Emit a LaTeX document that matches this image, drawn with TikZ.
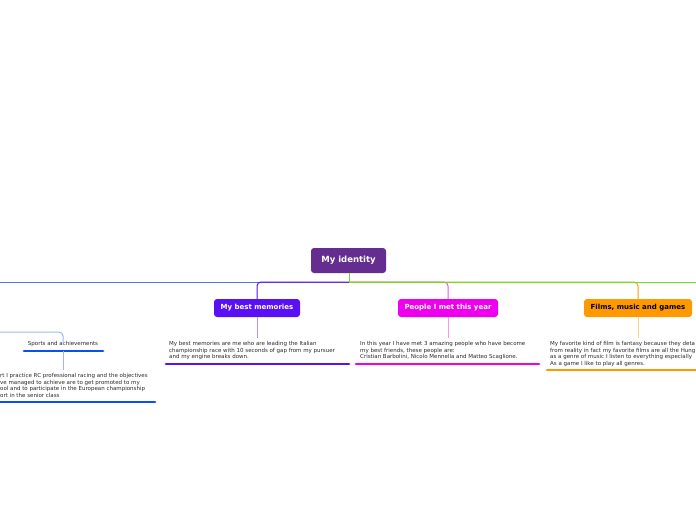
\documentclass[tikz,border=0pt]{standalone}
\usepackage{fontspec}
\setmainfont{DejaVu Sans}
\definecolor{cpurple}{HTML}{662D91}
\definecolor{cviolet}{HTML}{5A10F5}
\definecolor{cmag}{HTML}{EE00EE}
\definecolor{corange}{HTML}{FF9900}
\definecolor{cgreen}{HTML}{6EDC22}
\definecolor{cblue}{HTML}{5274E8}
\definecolor{cdblue}{HTML}{0A50F0}
\definecolor{clblue}{HTML}{9DB6F2}
\definecolor{ctext}{HTML}{2A2A2A}
\tikzset{
  topic/.style={rounded corners=3pt, inner sep=0pt, text centered, font=\bfseries\fontsize{7}{8}\selectfont},
  body/.style={inner sep=0pt, anchor=north west, align=left, text=ctext, font=\fontsize{5.5}{6.5}\selectfont},
  branch/.style={line width=1pt, rounded corners=4pt},
  stem/.style={line width=1pt},
  uline/.style={line width=2.8pt, line cap=round},
}
\begin{document}
\begin{tikzpicture}[x=1pt,y=-1pt]
\useasboundingbox (0,0) rectangle (696,520);
\clip (0,0) rectangle (696,520);
\fill[white] (0,0) rectangle (696,520);
% central node
\node[topic, fill=cpurple, text=white, minimum width=75pt, minimum height=25pt, font=\bfseries\fontsize{8.5}{10}\selectfont] (root) at (348.5,260.5) {My identity};
% child nodes
\node[topic, fill=cviolet, text=white, minimum width=86pt, minimum height=18pt] (mem) at (257,308) {My best memories};
\node[topic, fill=cmag, text=white, minimum width=100pt, minimum height=18pt] (ppl) at (448,308) {People I met this year};
\node[topic, fill=corange, text=black, minimum width=108pt, minimum height=18pt] (film) at (638,308) {Films, music and games};
\coordinate (hub) at (349,282);
\coordinate (leftend) at (0,282);
\coordinate (rightend) at (696,282);
% branches
\draw[branch, cblue] (hub) -- (leftend);
\draw[branch, cviolet] (hub) -| (mem.north);
\draw[branch, cmag!70] (hub) -| (ppl.north);
\draw[branch, corange] (hub) -| (film.north);
\draw[stem, cgreen] (root.south -| hub) -- (hub) -- (rightend);
% sports branch
\node[inner sep=0pt, text=ctext, font=\fontsize{5.5}{6.5}\selectfont] (sports) at (63,344) {Sports and achievements};
\coordinate (sportsin) at (0,332);
\draw[branch, clblue] (sportsin) -| ([yshift=-3pt]sports.north);
\coordinate (su1) at (24,351);
\coordinate (su2) at (103,351);
\draw[uline, cdblue] (su1) -- (su2);
% text blocks
\node[body] (memtxt) at (169,341.2) {My best memories are me who are leading the Italian\\championship race with 10 seconds of gap from my pursuer\\and my engine breaks down.};
\node[body] (ppltxt) at (360,341.2) {In this year I have met 3 amazing people who have become\\my best friends, these people are:\\Cristian Barbolini, Nicolo Mennella and Matteo Scaglione.};
\node[body] (filmtxt) at (550,341.2) {My favorite kind of film is fantasy because they deta\\from reality in fact my favorite films are all the Hung\\as a genre of music I listen to everything especially\\As a game I like to play all genres.};
\node[body] (sporttxt) at (0,373.2) {rt I practice RC professional racing and the objectives\\ve managed to achieve are to get promoted to my\\ool and to participate in the European championship\\ort in the senior class};
% stems
\draw[stem, cviolet!45] (mem.south) -- ([yshift=3pt]memtxt.north -| mem.south);
\draw[stem, cmag!40] (ppl.south) -- ([yshift=3pt]ppltxt.north -| ppl.south);
\draw[stem, corange!45] (film.south) -- ([yshift=3pt]filmtxt.north -| film.south);
\draw[stem, clblue] (sports.south |- su1) -- ([yshift=3pt]sporttxt.north -| sports.south);
% underlines
\coordinate (mu1) at (166,364); \coordinate (mu2) at (349,364);
\coordinate (pu1) at (356,364); \coordinate (pu2) at (539,364);
\coordinate (fu1) at (547,370); \coordinate (fu2) at (700,370);
\coordinate (tu1) at (-5,402); \coordinate (tu2) at (155,402);
\draw[uline, cviolet] (mu1) -- (mu2);
\draw[uline, cmag] (pu1) -- (pu2);
\draw[uline, corange] (fu1) -- (fu2);
\draw[uline, cdblue] (tu1) -- (tu2);
\end{tikzpicture}
\end{document}
